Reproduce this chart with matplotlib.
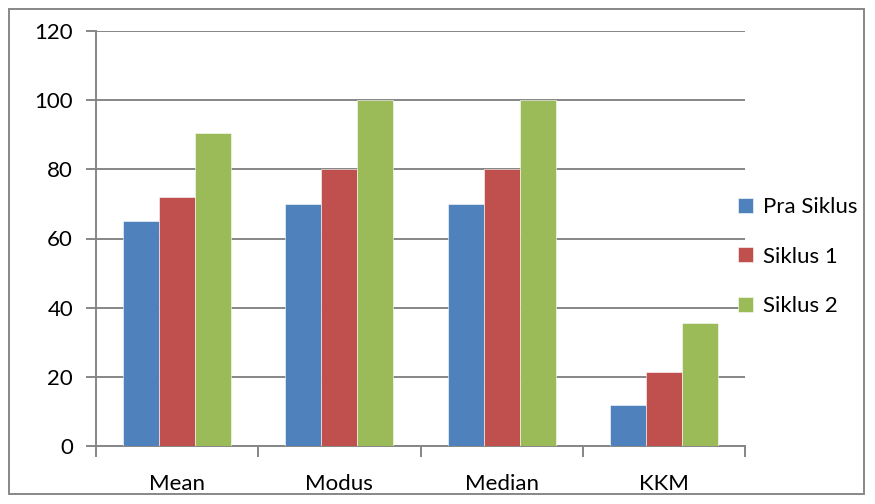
import matplotlib
matplotlib.use("Agg")
import matplotlib.pyplot as plt
import numpy as np
from matplotlib.patches import Rectangle

categories = ["Mean", "Modus", "Median", "KKM"]
series_names = ["Pra Siklus", "Siklus 1", "Siklus 2"]
pra_siklus = [65.2, 70, 70, 12]
siklus_1 = [72.1, 80, 80, 21.4]
siklus_2 = [90.6, 100, 100, 35.5]
colors = ["#4F81BD", "#C0504D", "#9BBB59"]
yticks = [0, 20, 40, 60, 80, 100, 120]

plt.rcParams['font.family'] = ['Lato', 'DejaVu Sans']
FS = 16

fig = plt.figure(figsize=(8.75, 5.04), dpi=100)
ax = fig.add_axes([96/875, 58/504, (745-96)/875, (446-31)/504])

x = np.arange(len(categories))
w = 0.222
for i, (vals, name, c) in enumerate(zip([pra_siklus, siklus_1, siklus_2], series_names, colors)):
    ax.bar(x + (i - 1) * w, vals, w, color=c, label=name, edgecolor="#FFFFFF", linewidth=0.4, zorder=3)

ax.set_xlim(-0.5, len(categories) - 0.5)
ax.set_ylim(0, 120)
ax.set_yticks(yticks)
ax.set_yticklabels([str(v) for v in yticks], fontsize=FS)
ax.yaxis.grid(True, color="#868686", linewidth=1.4, zorder=0)
ax.set_axisbelow(True)

ax.set_xticks(np.arange(-0.5, len(categories), 1.0))
ax.set_xticklabels([])
ax.set_xticks(x, minor=True)
ax.set_xticklabels(categories, minor=True, fontsize=FS)
ax.tick_params(axis="x", which="minor", length=0, pad=20)
ax.tick_params(axis="x", which="major", length=8, width=1.4, color="#868686", direction="out")
ax.tick_params(axis="y", length=7.5, width=1.4, color="#868686", direction="out", pad=9)

for s in ["top", "right"]:
    ax.spines[s].set_visible(False)
for s in ["left", "bottom"]:
    ax.spines[s].set_color("#868686")
    ax.spines[s].set_linewidth(1.4)

leg = fig.legend(loc="upper left", bbox_to_anchor=(738/875, 1 - 197/504), frameon=False,
                 fontsize=FS, handlelength=0.68, handleheight=0.68, handletextpad=0.45,
                 labelspacing=1.33, borderpad=0, borderaxespad=0)

fig.patches.append(Rectangle((9/875, 10/504), (864-9)/875, (495-10)/504, transform=fig.transFigure,
                             fill=False, edgecolor="#878787", linewidth=1.4))

fig.savefig("out.png", dpi=100)
